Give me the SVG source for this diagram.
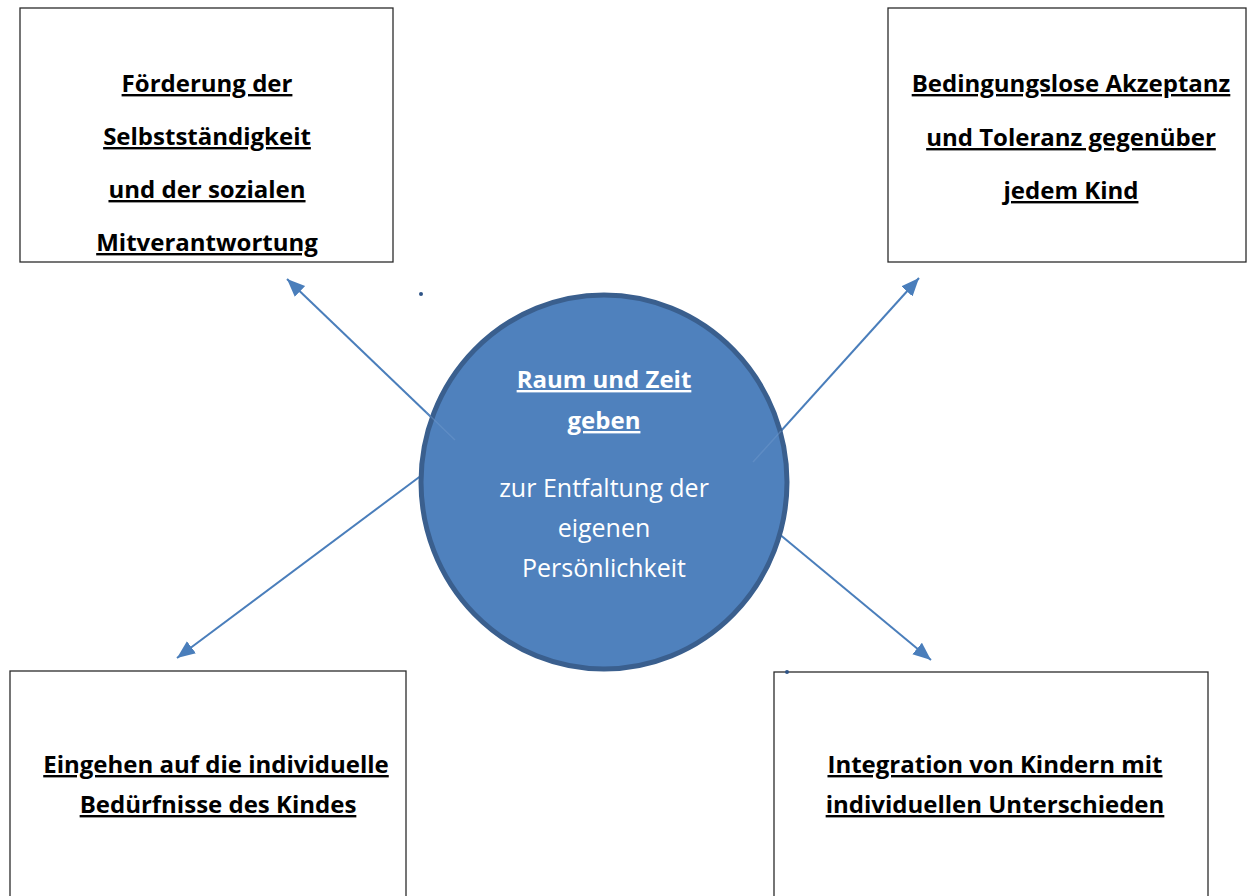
<svg xmlns="http://www.w3.org/2000/svg" width="1250" height="896" viewBox="0 0 1250 896">
<style>
.box{fill:#fff;stroke:#2b2b2b;stroke-width:1.3}
.bt{font-family:"Open Sans",Lato,sans-serif;font-weight:bold;font-size:24px;fill:#000;text-anchor:middle;text-decoration:underline}
.ct{font-family:"Open Sans",Lato,sans-serif;font-size:25px;fill:#fff;text-anchor:middle}
.cb{font-weight:bold;font-size:24px;text-decoration:underline}
.conn{stroke:#4A7EBB;stroke-width:2;fill:none;marker-end:url(#ah)}
.inner{stroke:#6E98CC;stroke-width:1.5;fill:none}
.dot{fill:#2F5487}
</style>
<defs>
<marker id="ah" markerUnits="userSpaceOnUse" markerWidth="20" markerHeight="16" refX="18" refY="7.5" orient="auto">
<path d="M0,0 L18,7.5 L0,15 z" fill="#4A7EBB"/>
</marker>
</defs>
<rect width="1250" height="896" fill="#fff"/>
<g id="connectors">
<line class="conn" x1="455" y1="440" x2="287" y2="279"/>
<line class="conn" x1="753" y1="462" x2="919" y2="278"/>
<line class="conn" x1="422" y1="475" x2="177" y2="658"/>
<line class="conn" x1="778" y1="533" x2="931" y2="660"/>
</g>
<g id="center">
<ellipse cx="604" cy="482" rx="183" ry="187" fill="#4F81BD" stroke="#3A5F8E" stroke-width="5"/>
<line class="inner" x1="455" y1="440" x2="426" y2="412" opacity="0.5"/>
<line class="inner" x1="753" y1="462" x2="781" y2="431" opacity="0.5"/>
<text class="ct cb" x="604" y="388">Raum und Zeit</text>
<text class="ct cb" x="604" y="429">geben</text>
<text class="ct" x="604" y="497">zur Entfaltung der</text>
<text class="ct" x="604" y="537">eigenen</text>
<text class="ct" x="604" y="577">Persönlichkeit</text>
</g>
<g id="box-tl">
<rect class="box" x="20" y="8" width="373" height="254"/>
<text class="bt" x="207" y="92">Förderung der</text>
<text class="bt" x="207" y="145">Selbstständigkeit</text>
<text class="bt" x="207" y="198">und der sozialen</text>
<text class="bt" x="207" y="251">Mitverantwortung</text>
</g>
<g id="box-tr">
<rect class="box" x="888" y="8" width="358" height="254"/>
<text class="bt" x="1071" y="92">Bedingungslose Akzeptanz</text>
<text class="bt" x="1071" y="146">und Toleranz gegenüber</text>
<text class="bt" x="1071" y="199">jedem Kind</text>
</g>
<g id="box-bl">
<rect class="box" x="10" y="671" width="396" height="240"/>
<text class="bt" x="216" y="773">Eingehen auf die individuelle</text>
<text class="bt" x="218" y="813">Bedürfnisse des Kindes</text>
</g>
<g id="box-br">
<rect class="box" x="774" y="672" width="434" height="240"/>
<text class="bt" x="995" y="773">Integration von Kindern mit</text>
<text class="bt" x="995" y="813">individuellen  Unterschieden</text>
</g>
<circle class="dot" cx="421" cy="294" r="2"/>
<circle class="dot" cx="787" cy="672" r="2"/>
</svg>
